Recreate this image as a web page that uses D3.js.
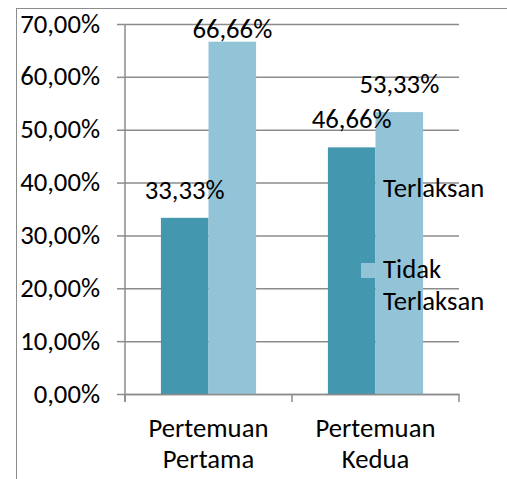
<!DOCTYPE html>
<html>
<head>
<meta charset="utf-8">
<script src="https://cdn.jsdelivr.net/npm/d3@7"></script>
<style>
  body { margin: 0; background: #fff; }
  svg { display: block; }
  svg text { font-family: Carlito, "Open Sans", sans-serif; }
</style>
</head>
<body>
<script>
const w = 507;
const h = 479;

const categories = [["Pertemuan", "Pertama"], ["Pertemuan", "Kedua"]];
const seriesNames = ["Terlaksan", "Tidak Terlaksan"];
const terlaksan = [0.3333, 0.4666];
const tidakTerlaksan = [0.6666, 0.5333];
const yTicks = [0, 0.1, 0.2, 0.3, 0.4, 0.5, 0.6, 0.7];

const colors = ["#4397ae", "#93c3d6"];
const seriesValues = [terlaksan, tidakTerlaksan];
const fs = 26.7;

const rows = categories.map((c, i) => ({
    key: c.join(" "),
    lines: c,
    vals: seriesNames.map((s, j) => ({ s: s, v: seriesValues[j][i], j: j }))
}));

const fmt = v => d3.format(".2f")(v * 100).replace(".", ",") + "%";

const svg = d3.select("body").append("svg").attr("width", w).attr("height", h);

// outer frame
svg.append("rect")
    .attr("x", 16.5).attr("y", 8.5)
    .attr("width", 600).attr("height", 600)
    .attr("fill", "none").attr("stroke", "#8c8c8c").attr("stroke-width", 1);

const pLeft = 125, pRight = 459, pTop = 24, pBottom = 394;

const y = d3.scaleLinear().domain([0, 0.7]).range([pBottom, pTop]);
const x0 = d3.scaleBand().domain(rows.map(d => d.key)).range([pLeft, pRight]);
const x1 = d3.scaleBand().domain(seriesNames)
    .range([x0.bandwidth() * 0.215, x0.bandwidth() * 0.785]);

// gridlines + y axis
const yAxis = d3.axisLeft(y).tickValues(yTicks).tickFormat("").tickSize(8);
const gy = svg.append("g").attr("transform", `translate(${pLeft},0)`).call(yAxis)
    .attr("font-family", null).attr("font-size", null);
gy.select(".domain").remove();
gy.selectAll(".tick line").attr("stroke", "#8c8c8c").attr("stroke-width", 1.5);
gy.selectAll(".tick").append("line")
    .attr("x1", 0).attr("x2", pRight - pLeft)
    .attr("stroke", "#8c8c8c").attr("stroke-width", 1.5);
gy.selectAll(".tick").append("text")
    .attr("x", -25).attr("y", 8)
    .attr("text-anchor", "end").attr("fill", "#000")
    .attr("font-size", fs)
    .text(d => fmt(d));

svg.append("line")
    .attr("x1", pLeft).attr("x2", pLeft)
    .attr("y1", pTop).attr("y2", pBottom + 8)
    .attr("stroke", "#8c8c8c").attr("stroke-width", 1.5);

// bars
const groups = svg.selectAll("g.grp")
    .data(rows)
    .enter().append("g")
    .attr("class", "grp")
    .attr("transform", d => `translate(${x0(d.key)},0)`);

groups.selectAll("rect")
    .data(d => d.vals)
    .enter().append("rect")
    .attr("x", d => x1(d.s))
    .attr("y", d => y(d.v))
    .attr("width", x1.bandwidth())
    .attr("height", d => pBottom - y(d.v))
    .attr("fill", d => colors[d.j]);

// x axis
const xAxis = d3.axisBottom(x0).tickValues([]).tickSizeOuter(0);
const gx = svg.append("g").attr("transform", `translate(0,${pBottom})`).call(xAxis)
    .attr("font-family", null).attr("font-size", null);
gx.select(".domain").attr("stroke", "#8c8c8c").attr("stroke-width", 1.5);
[pLeft, x0(rows[1].key), pRight].forEach(px => {
    gx.append("line").attr("x1", px).attr("x2", px).attr("y1", 0).attr("y2", 8)
        .attr("stroke", "#8c8c8c").attr("stroke-width", 1.5);
});
rows.forEach(r => {
    const t = gx.append("text")
        .attr("x", x0(r.key) + x0.bandwidth() / 2)
        .attr("text-anchor", "middle").attr("fill", "#000")
        .attr("font-size", fs);
    r.lines.forEach((ln, i) => {
        t.append("tspan").attr("x", x0(r.key) + x0.bandwidth() / 2)
            .attr("y", 43 + i * 31).text(ln);
    });
});

// data labels
groups.selectAll("text.lbl")
    .data(d => d.vals)
    .enter().append("text")
    .attr("class", "lbl")
    .attr("x", d => x1(d.s) + x1.bandwidth() / 2)
    .attr("y", d => Math.max(y(d.v) - 19, 38))
    .attr("text-anchor", "middle")
    .attr("font-size", fs)
    .attr("fill", "#000")
    .text(d => fmt(d.v));

// legend
const legend = [
    { lines: ["Terlaksan"], y: 197 },
    { lines: ["Tidak", "Terlaksan"], y: 277.5 }
];
legend.forEach((l, i) => {
    svg.append("rect")
        .attr("x", 361).attr("y", l.y - 14.5)
        .attr("width", 14).attr("height", 15)
        .attr("fill", colors[i]);
    const t = svg.append("text").attr("font-size", fs).attr("fill", "#000");
    l.lines.forEach((ln, k) => {
        t.append("tspan").attr("x", 383).attr("y", l.y + k * 32).text(ln);
    });
});
</script>
</body>
</html>
